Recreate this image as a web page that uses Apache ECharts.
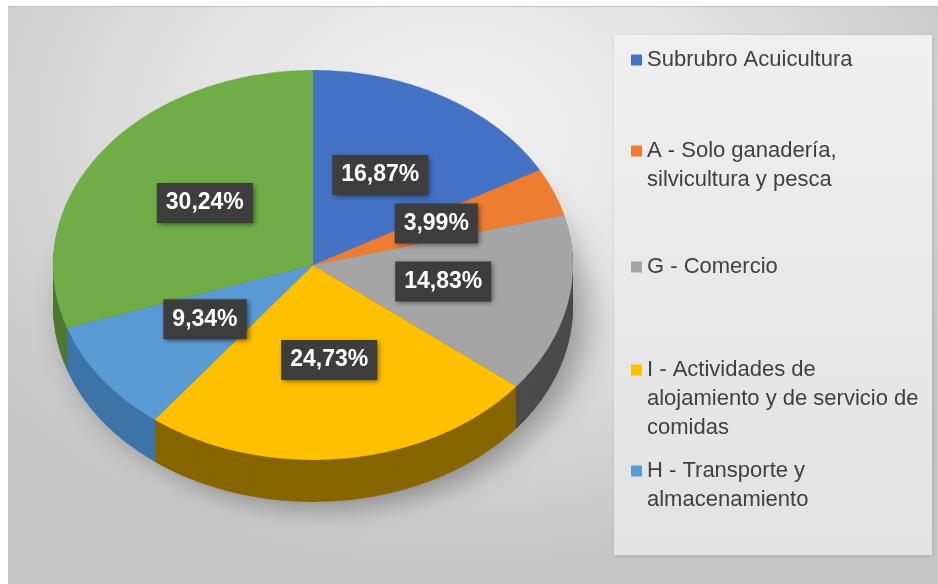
<!DOCTYPE html>
<html>
<head>
<meta charset="utf-8">
<script src="https://cdn.jsdelivr.net/npm/echarts@6/dist/echarts.min.js"></script>
<style>
  html, body { margin: 0; padding: 0; background: #fff; }
  #wrap { position: relative; width: 938px; height: 584px; overflow: hidden; }
  #fondo {
    position: absolute; left: 8px; top: 6px; right: 0; bottom: 0;
    border-top: 1px solid #c2c2c2;
    background: radial-gradient(ellipse 62% 75% at 48% 22%, #f2f2f2 0%, #e3e3e3 45%, #c6c6c6 100%);
  }
  /* la torta se dibuja como circulo y se achata con CSS para simular la vista 3D */
  #torta {
    position: absolute; left: 0; top: 0; width: 938px; height: 700px;
    transform: scaleY(0.75); transform-origin: 313px 265px;
  }
  #main { position: absolute; left: 0; top: 0; width: 938px; height: 584px; }
</style>
</head>
<body>
<div id="wrap">
  <div id="fondo"></div>
  <div id="torta"></div>
  <div id="main"></div>
</div>
<script>
// Datos
var categorias = [
  'Subrubro Acuicultura',
  'A - Solo ganadería, silvicultura y pesca',
  'G - Comercio',
  'I - Actividades de alojamiento y de servicio de comidas',
  'H - Transporte y almacenamiento',
  'Otros'
];
var porcentajes = [16.87, 3.99, 14.83, 24.73, 9.34, 30.24];

// Texto de la leyenda tal como aparece cortado en lineas
var lineasLeyenda = [
  ['Subrubro Acuicultura'],
  ['A - Solo ganadería,', 'silvicultura y pesca'],
  ['G - Comercio'],
  ['I - Actividades de', 'alojamiento y de servicio de', 'comidas'],
  ['H - Transporte y', 'almacenamiento']
];

// Estilos
var coloresCara = ['#4472C4', '#ED7D31', '#A5A5A5', '#FFC000', '#5B9BD5', '#70AD47'];
var coloresLado = ['#2f5597', '#ae5a21', '#4b4b4b', '#876600', '#3d74a8', '#4e7a31'];
var yPrimeraLinea = [60, 151, 267, 370, 471];

var CX = 313, CY = 265, R = 260, ESCALA = 0.75, GROSOR = 42, LH = 29;

// ---- torta (cara superior + lado) ----
var torta = echarts.init(document.getElementById('torta'));
var capas = [];
var nCapas = 30;
for (var k = nCapas; k >= 1; k--) {
  var desp = (GROSOR / ESCALA) * k / nCapas;
  capas.push({
    type: 'pie',
    silent: true,
    center: [CX, CY + desp],
    radius: R,
    label: { show: false },
    labelLine: { show: false },
    itemStyle: k === nCapas
      ? { borderWidth: 0, shadowBlur: 35, shadowColor: 'rgba(0,0,0,0.35)', shadowOffsetX: 12, shadowOffsetY: 8 }
      : { borderWidth: 0 },
    data: porcentajes.map(function (v, i) {
      return { name: categorias[i], value: v, itemStyle: { color: coloresLado[i] } };
    })
  });
}
capas.push({
  type: 'pie',
  silent: true,
  center: [CX, CY],
  radius: R,
  label: { show: false },
  labelLine: { show: false },
  itemStyle: { borderWidth: 0 },
  data: porcentajes.map(function (v, i) {
    return { name: categorias[i], value: v, itemStyle: { color: coloresCara[i] } };
  })
});
torta.setOption({ backgroundColor: 'transparent', animation: false, series: capas });

// ---- etiquetas y leyenda ----
var myChart = echarts.init(document.getElementById('main'));

var leyendas = lineasLeyenda.map(function (lineas, i) {
  var n = lineas.length;
  var relleno = new Array(n).join('\n'); // icono alineado con la primera linea
  return {
    orient: 'vertical',
    left: 631,
    top: yPrimeraLinea[i] - (2 * n - 1) * LH / 2,
    padding: 0,
    icon: 'rect',
    itemWidth: 11,
    itemHeight: 11,
    selectedMode: false,
    data: [{ name: categorias[i], itemStyle: { color: coloresCara[i] } }],
    formatter: function () { return relleno + lineas.join('\n'); },
    textStyle: { fontFamily: 'Liberation Sans', fontSize: 22, lineHeight: LH, color: '#404040' }
  };
});

var option = {
  backgroundColor: 'transparent',
  animation: false,
  graphic: [{
    type: 'rect',
    z: -10,
    shape: { x: 614, y: 35, width: 318, height: 520 },
    style: {
      fill: new echarts.graphic.LinearGradient(0, 0, 0, 1, [
        { offset: 0, color: '#efefef' },
        { offset: 1, color: '#e2e2e2' }
      ]),
      shadowBlur: 4,
      shadowColor: 'rgba(0,0,0,0.12)',
      shadowOffsetX: 1,
      shadowOffsetY: 1
    }
  }],
  legend: leyendas,
  series: [{
    type: 'pie',
    silent: true,
    center: [CX, CY],
    radius: R,
    itemStyle: { color: 'rgba(0,0,0,0)', borderWidth: 0 },
    label: {
      show: true,
      position: 'inside',
      formatter: function (p) { return p.value.toFixed(2).replace('.', ',') + '%'; },
      color: '#ffffff',
      fontFamily: 'Liberation Sans',
      fontWeight: 'bold',
      fontSize: 23,
      lineHeight: 27,
      backgroundColor: '#3d3d3d',
      padding: [7, 9, 6, 9],
      shadowBlur: 5,
      shadowColor: 'rgba(0,0,0,0.5)',
      shadowOffsetX: 2,
      shadowOffsetY: 2
    },
    labelLine: { show: false },
    labelLayout: function (p) {
      var yc = p.labelRect.y + p.labelRect.height / 2;
      return { dy: (yc - CY) * (ESCALA - 1) - 4 };
    },
    data: porcentajes.map(function (v, i) {
      return { name: categorias[i], value: v };
    })
  }]
};

option && myChart.setOption(option);
</script>
</body>
</html>
